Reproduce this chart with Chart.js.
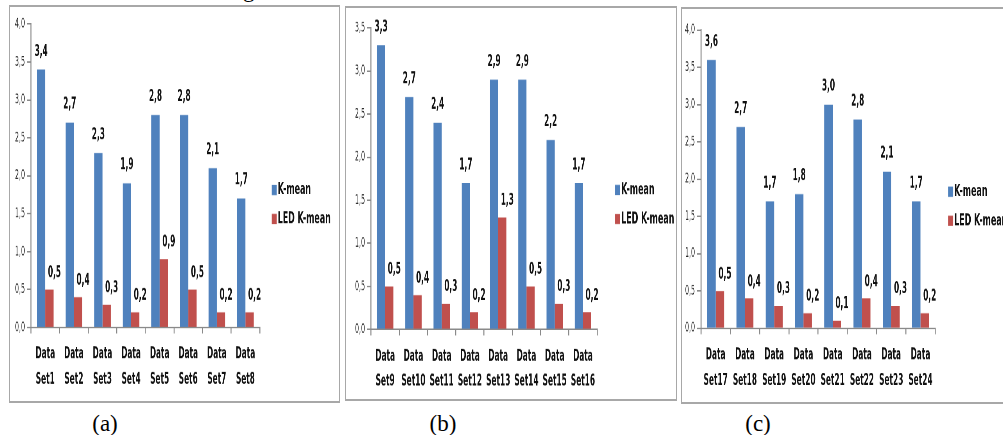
<!DOCTYPE html>
<html><head><meta charset="utf-8">
<script src="https://cdn.jsdelivr.net/npm/chart.js@4.4.1/dist/chart.umd.min.js"></script>
<style>
html,body{margin:0;padding:0;background:#fff;width:1003px;height:435px;overflow:hidden;position:relative;}
.box{position:absolute;box-sizing:border-box;border:1px solid #a8a8a8;border-top-width:2px;border-bottom-width:2px;}
.wrap{position:absolute;transform-origin:0 0;}
.cap{position:absolute;font-family:"Liberation Serif","DejaVu Serif",serif;font-size:23px;color:#000;line-height:26px;white-space:nowrap;}
</style></head><body>
<div class="cap" style="left:243px;top:-23px;">g</div>
<script>
// ---- data ----
const seriesNames = ['K-mean', 'LED K-mean'];

const labelsA = [['Data','Set1'],['Data','Set2'],['Data','Set3'],['Data','Set4'],['Data','Set5'],['Data','Set6'],['Data','Set7'],['Data','Set8']];
const kmeanA  = [3.4, 2.7, 2.3, 1.9, 2.8, 2.8, 2.1, 1.7];
const ledA    = [0.5, 0.4, 0.3, 0.2, 0.9, 0.5, 0.2, 0.2];
const yTicksA = [0, 0.5, 1.0, 1.5, 2.0, 2.5, 3.0, 3.5, 4.0];

const labelsB = [['Data','Set9'],['Data','Set10'],['Data','Set11'],['Data','Set12'],['Data','Set13'],['Data','Set14'],['Data','Set15'],['Data','Set16']];
const kmeanB  = [3.3, 2.7, 2.4, 1.7, 2.9, 2.9, 2.2, 1.7];
const ledB    = [0.5, 0.4, 0.3, 0.2, 1.3, 0.5, 0.3, 0.2];
const yTicksB = [0, 0.5, 1.0, 1.5, 2.0, 2.5, 3.0, 3.5];

const labelsC = [['Data','Set17'],['Data','Set18'],['Data','Set19'],['Data','Set20'],['Data','Set21'],['Data','Set22'],['Data','Set23'],['Data','Set24']];
const kmeanC  = [3.6, 2.7, 1.7, 1.8, 3.0, 2.8, 2.1, 1.7];
const ledC    = [0.5, 0.4, 0.3, 0.2, 0.1, 0.4, 0.3, 0.2];
const yTicksC = [0, 0.5, 1.0, 1.5, 2.0, 2.5, 3.0, 3.5, 4.0];

const panelCaptions = ['(a)', '(b)', '(c)'];

// ---- style / layout ----
const SY = 1.5, SX = 0.78;   // the original picture is stretched tall and narrow
const BLUE = '#4F81BD', RED = '#C0504D', AX = '#8a8a8a';
const FONT = '"Liberation Sans Narrow","Arial Narrow","DejaVu Sans Condensed",sans-serif';
Chart.defaults.font.family = FONT;

const fmt = v => Number(v).toFixed(1).replace('.', ',');

const valueLabels = {
  id: 'valueLabels',
  afterDatasetsDraw(chart) {
    const ctx = chart.ctx;
    ctx.save();
    ctx.font = 'bold 10.5px ' + FONT;
    ctx.fillStyle = '#111';
    ctx.textAlign = 'center';
    ctx.textBaseline = 'middle';
    chart.data.datasets.forEach((ds, i) => {
      chart.getDatasetMeta(i).data.forEach((el, j) => {
        const dx = i === 1 ? 5 / SX : 0;
        const dy = i === 1 ? 11 : 12;
        ctx.fillText(fmt(ds.data[j]), el.x + dx, el.y - dy);
      });
    });
    ctx.restore();
  }
};

const sideLegend = {
  id: 'sideLegend',
  afterDraw(chart, args, o) {
    const ctx = chart.ctx, ca = chart.chartArea;
    chart.data.datasets.forEach((ds, i) => {
      const x = ca.right + o.gap / SX, y = o.rows[i];
      ctx.save();
      ctx.translate(x, y);
      ctx.scale(1 / SX, 1);
      ctx.fillStyle = ds.backgroundColor;
      ctx.fillRect(0, -3.4, 5, 6.8);
      ctx.scale(0.8, 1);
      ctx.font = 'bold 11px ' + FONT;
      ctx.textBaseline = 'middle';
      ctx.textAlign = 'left';
      ctx.fillStyle = '#111';
      ctx.fillText(ds.label, 6 / 0.8, 0);
      ctx.restore();
    });
  }
};

const panels = [
  {labels: labelsA, k: kmeanA, l: ledA, yt: yTicksA, box: {l: 9, t: 5, r: 340, b: 403}, area: {l: 31, t: 24, r: 260, b: 328}, gap: 12, rows: [190, 219], capX: 105},
  {labels: labelsB, k: kmeanB, l: ledB, yt: yTicksB, box: {l: 345, t: 6, r: 677, b: 401}, area: {l: 371, t: 28, r: 597, b: 330}, gap: 18, rows: [190, 219], capX: 443},
  {labels: labelsC, k: kmeanC, l: ledC, yt: yTicksC, box: {l: 681, t: 7, r: 1006, b: 404}, area: {l: 701, t: 30, r: 935, b: 328}, gap: 13, rows: [191, 220], capX: 758}
];

panels.forEach((p, idx) => {
  const W = p.box.r - p.box.l, H = p.box.b - p.box.t;
  const Wu = W / SX, Hu = H / SY;
  const box = document.createElement('div');
  box.className = 'box';
  Object.assign(box.style, {left: p.box.l + 'px', top: p.box.t + 'px', width: W + 'px', height: H + 'px'});
  document.body.appendChild(box);

  const wrap = document.createElement('div');
  wrap.className = 'wrap';
  Object.assign(wrap.style, {left: p.box.l + 'px', top: p.box.t + 'px', width: Wu + 'px', height: Hu + 'px', transform: 'scale(' + SX + ',' + SY + ')'});
  const cv = document.createElement('canvas');
  cv.width = Wu; cv.height = Hu;
  cv.style.width = Wu + 'px'; cv.style.height = Hu + 'px';
  wrap.appendChild(cv);
  document.body.appendChild(wrap);

  const cap = document.createElement('div');
  cap.className = 'cap';
  cap.textContent = panelCaptions[idx];
  Object.assign(cap.style, {left: p.capX + 'px', top: '411px', transform: 'translateX(-50%)'});
  document.body.appendChild(cap);

  const yw = (p.area.l - p.box.l) / SX;
  const topU = (p.area.t - p.box.t) / SY;
  const botU = (p.area.b - p.box.t) / SY;
  const xh = Hu - botU;
  const rightPad = Wu - (p.area.r - p.box.l) / SX;

  new Chart(cv, {
    type: 'bar',
    data: {
      labels: p.labels,
      datasets: [
        {label: seriesNames[0], data: p.k, backgroundColor: BLUE},
        {label: seriesNames[1], data: p.l, backgroundColor: RED}
      ]
    },
    options: {
      responsive: false, animation: false, devicePixelRatio: 2,
      layout: {padding: {top: topU, right: rightPad, bottom: 0, left: 0}},
      datasets: {bar: {categoryPercentage: 0.58, barPercentage: 1.0}},
      plugins: {
        legend: {display: false}, tooltip: {enabled: false},
        sideLegend: {gap: p.gap, rows: p.rows.map(r => (r - p.box.t) / SY)}
      },
      scales: {
        x: {
          grid: {display: true, drawOnChartArea: false, drawTicks: true, tickLength: 4, color: AX, offset: true, lineWidth: 1 / SX},
          border: {color: AX, width: 1},
          ticks: {font: {size: 10.5, weight: 'bold', lineHeight: 1.6}, color: '#111', padding: 5.5, maxRotation: 0, minRotation: 0, autoSkip: false},
          afterFit(s) { s.height = xh; }
        },
        y: {
          min: 0, max: p.yt[p.yt.length - 1],
          afterBuildTicks(s) { s.ticks = p.yt.map(v => ({value: v})); },
          grid: {drawOnChartArea: false, drawTicks: true, tickLength: 4 / SX, color: AX},
          border: {color: AX, width: 1 / SX},
          ticks: {font: {size: 9}, color: '#222', padding: 2 / SX, callback: v => fmt(v)},
          afterFit(s) { s.width = yw; }
        }
      }
    },
    plugins: [valueLabels, sideLegend]
  });
});
</script>
</body></html>
